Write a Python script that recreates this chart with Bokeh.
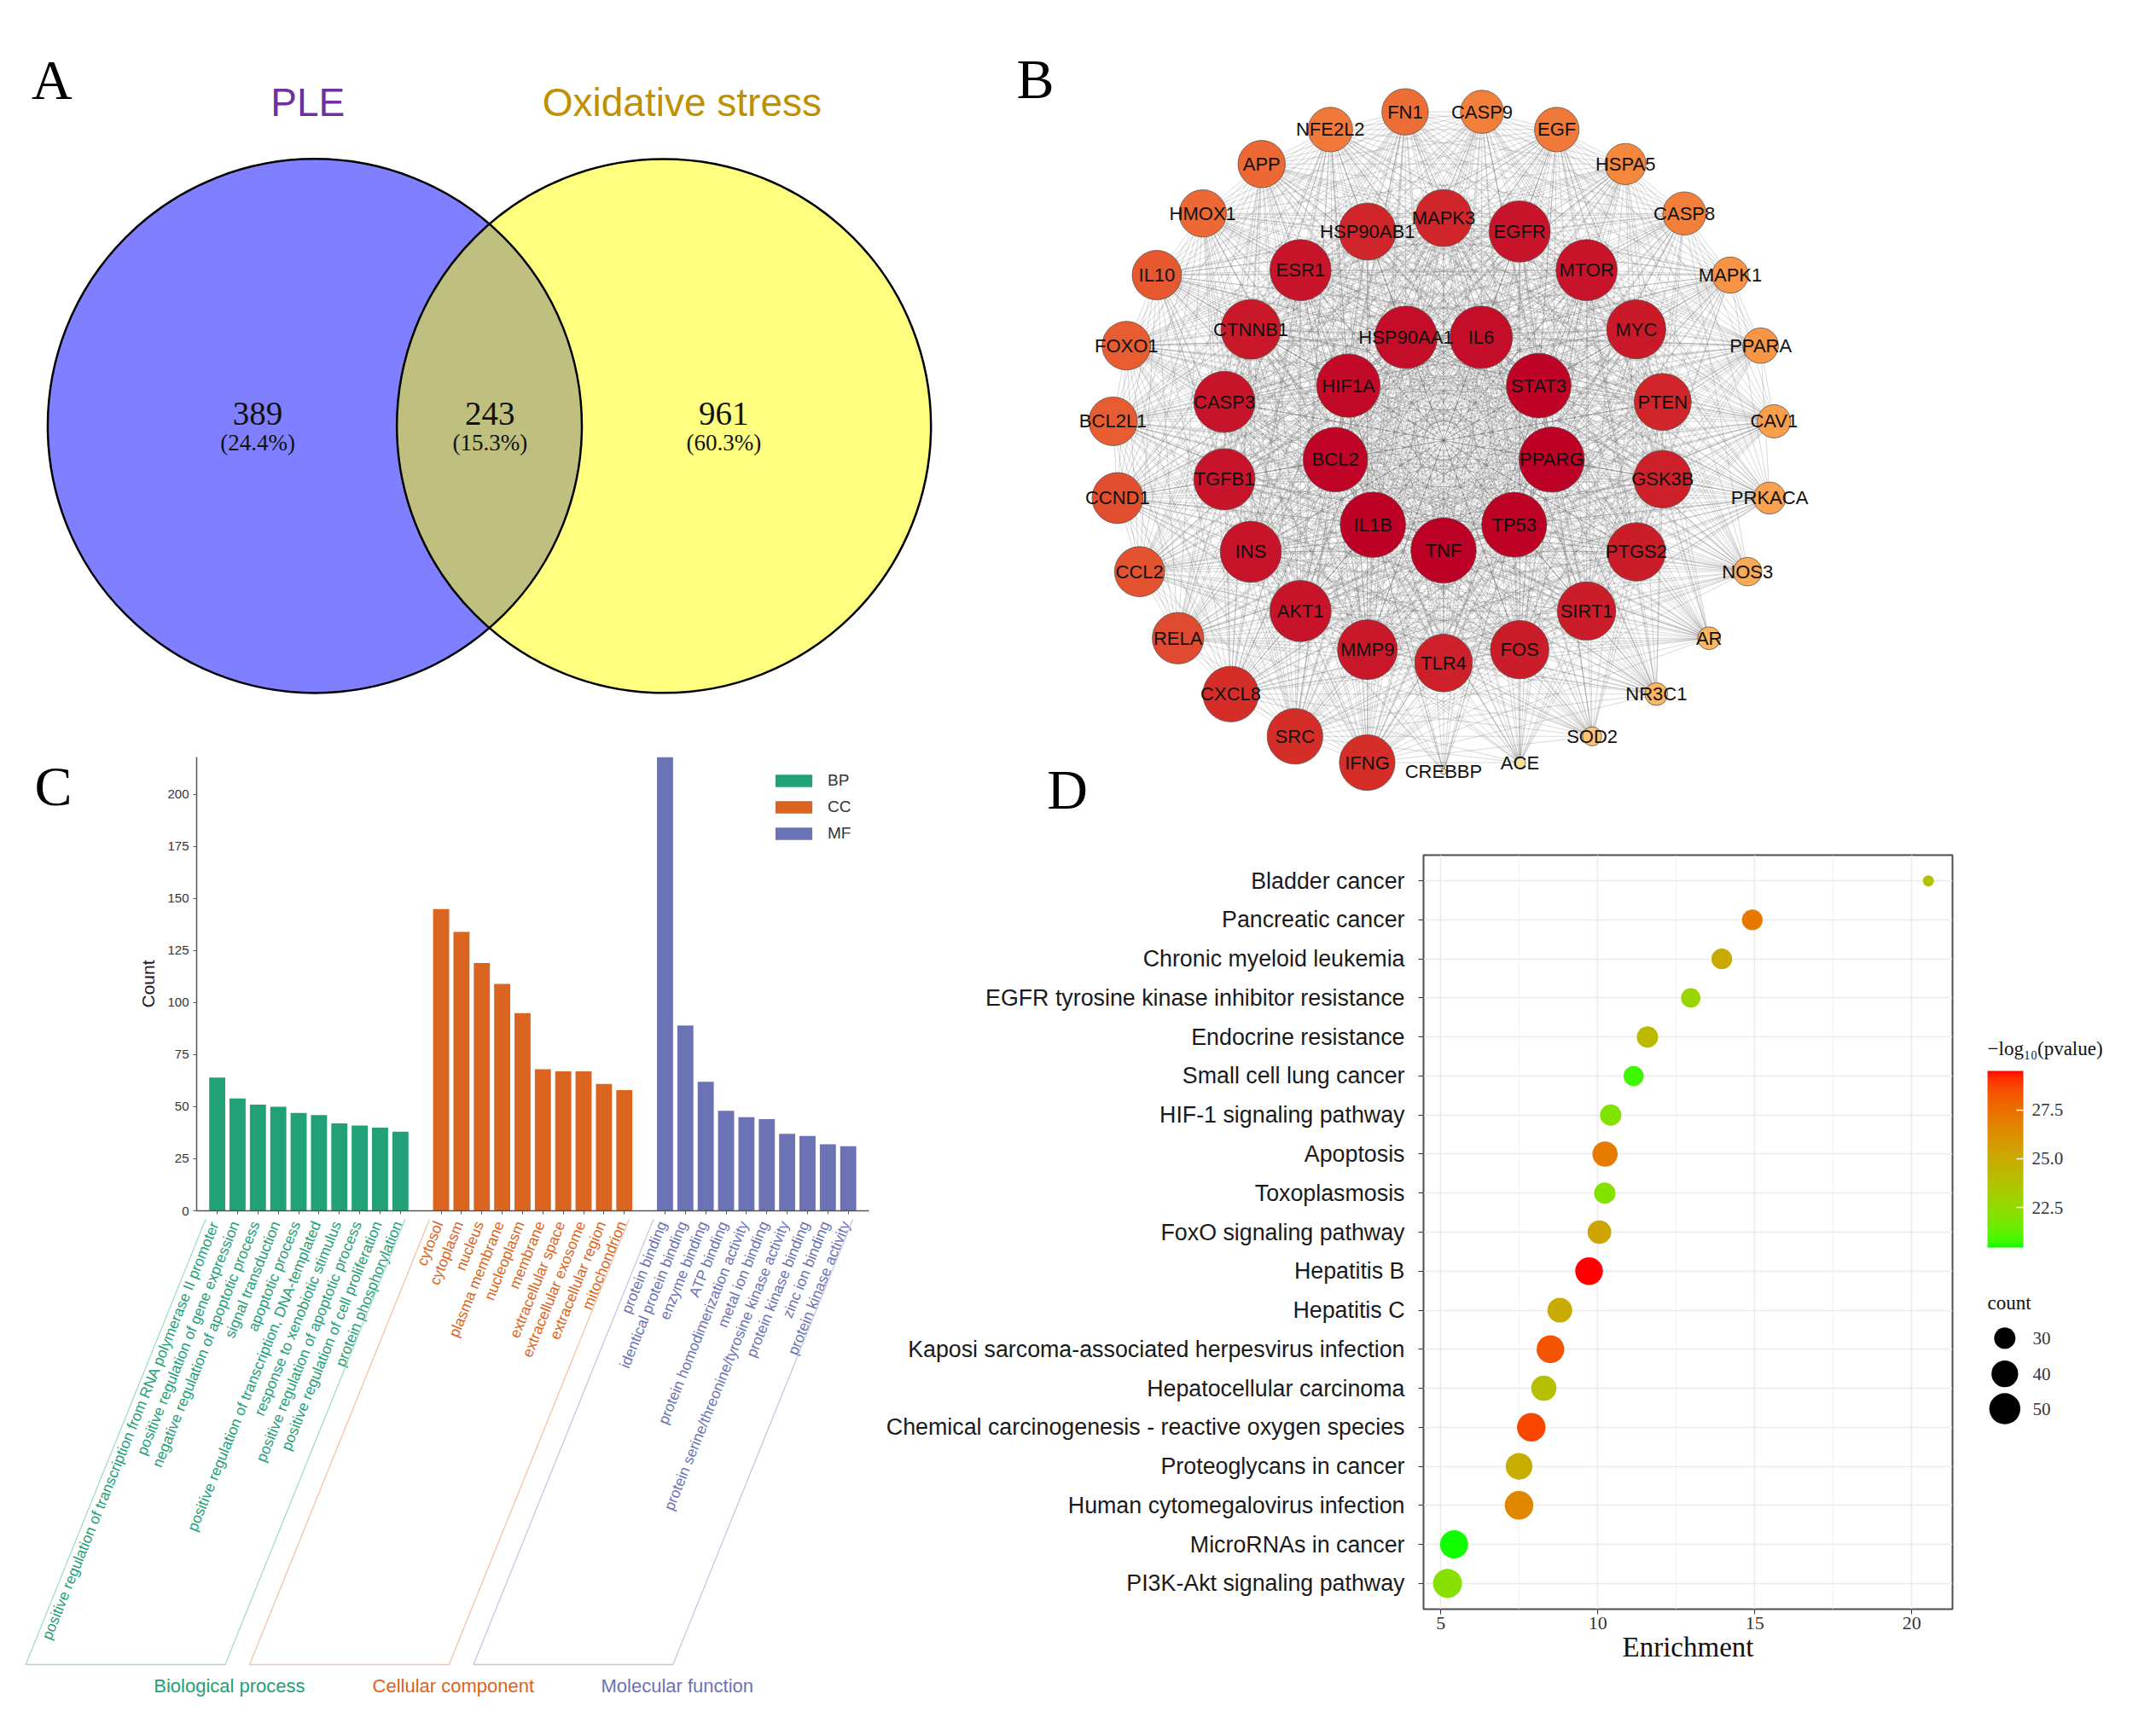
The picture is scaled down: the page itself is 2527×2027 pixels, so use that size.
import math
from bokeh.plotting import figure
from bokeh.models import (ColumnDataSource, Range1d, FactorRange, FixedTicker,
                          ColorBar, LinearColorMapper, PrintfTickFormatter, GridBox)
from bokeh.core.properties import value
from bokeh.embed import file_html
from bokeh.resources import INLINE

# ============================ DATA ============================
# Panel A - Venn diagram
venn_sets = ["PLE", "Oxidative stress"]
venn_set_colors = ["#7030A0", "#BF9000"]
venn_region_counts = [389, 243, 961]          # PLE only, shared, Oxidative stress only

# Panel B - PPI network, degree sorted concentric circles (node size ~ degree)
ring_inner = ["IL6", "STAT3", "PPARG", "TP53", "TNF", "IL1B", "BCL2", "HIF1A", "HSP90AA1"]
ring_inner_size = [45, 46.5, 47, 46.7, 47, 47, 46.4, 45.6, 45]
ring_middle = ["MAPK3", "EGFR", "MTOR", "MYC", "PTEN", "GSK3B", "PTGS2", "SIRT1", "FOS",
               "TLR4", "MMP9", "AKT1", "INS", "TGFB1", "CASP3", "CTNNB1", "ESR1", "HSP90AB1"]
ring_middle_size = [41, 44, 44, 42.5, 41, 41.5, 42, 42, 42, 41.5, 43, 44, 44, 44, 44, 43, 44, 41]
ring_outer = ["FN1", "CASP9", "EGF", "HSPA5", "CASP8", "MAPK1", "PPARA", "CAV1", "PRKACA",
              "NOS3", "AR", "NR3C1", "SOD2", "ACE", "CREBBP", "IFNG", "SRC", "CXCL8", "RELA",
              "CCL2", "CCND1", "BCL2L1", "FOXO1", "IL10", "HMOX1", "APP", "NFE2L2"]
ring_outer_size = [33.4, 31, 32, 29.6, 31, 26, 25.5, 24, 23, 20.5, 16.4, 16.4, 13.7, 8, 4,
                   40, 40, 40, 37, 36, 36.6, 35, 35, 35.5, 34, 34, 32]

# Panel C - GO enrichment
go_bp_terms = ["positive regulation of transcription from RNA polymerase II promoter",
               "positive regulation of gene expression",
               "negative regulation of apoptotic process",
               "signal transduction",
               "apoptotic process",
               "positive regulation of transcription, DNA-templated",
               "response to xenobiotic stimulus",
               "positive regulation of apoptotic process",
               "positive regulation of cell proliferation",
               "protein phosphorylation"]
go_bp_counts = [64, 54, 51, 50, 47, 46, 42, 41, 40, 38]
go_cc_terms = ["cytosol", "cytoplasm", "nucleus", "plasma membrane", "nucleoplasm",
               "membrane", "extracellular space", "extracellular exosome",
               "extracellular region", "mitochondrion"]
go_cc_counts = [145, 134, 119, 109, 95, 68, 67, 67, 61, 58]
go_mf_terms = ["protein binding", "identical protein binding", "enzyme binding", "ATP binding",
               "protein homodimerization activity", "metal ion binding",
               "protein serine/threonine/tyrosine kinase activity", "protein kinase binding",
               "zinc ion binding", "protein kinase activity"]
go_mf_counts = [218, 89, 62, 48, 45, 44, 37, 36, 32, 31]
go_y_ticks = [0, 25, 50, 75, 100, 125, 150, 175, 200]

# Panel D - KEGG enrichment
kegg_pathways = ["Bladder cancer", "Pancreatic cancer", "Chronic myeloid leukemia",
                 "EGFR tyrosine kinase inhibitor resistance", "Endocrine resistance",
                 "Small cell lung cancer", "HIF-1 signaling pathway", "Apoptosis",
                 "Toxoplasmosis", "FoxO signaling pathway", "Hepatitis B", "Hepatitis C",
                 "Kaposi sarcoma-associated herpesvirus infection", "Hepatocellular carcinoma",
                 "Chemical carcinogenesis - reactive oxygen species", "Proteoglycans in cancer",
                 "Human cytomegalovirus infection", "MicroRNAs in cancer",
                 "PI3K-Akt signaling pathway"]
kegg_enrichment = [20.53, 14.92, 13.95, 12.96, 11.58, 11.14, 10.41, 10.23, 10.22, 10.05,
                   9.72, 8.79, 8.49, 8.28, 7.88, 7.49, 7.49, 5.42, 5.21]
kegg_neglog10p = [23.8, 27.2, 25.0, 22.8, 24.2, 20.8, 22.0, 27.1, 22.1, 25.3,
                  29.5, 25.0, 28.3, 24.0, 28.7, 24.9, 26.6, 20.5, 22.2]
kegg_count = [18, 29, 29, 27, 30, 28, 30, 37, 30, 34, 42, 36, 42, 37, 44, 40, 44, 43, 45]
kegg_x_ticks = [5, 10, 15, 20]
colorbar_ticks = [22.5, 25.0, 27.5]
count_legend_values = [30, 40, 50]

# ============================ LAYOUT / STYLE ============================
S = 2527 / 1550.0              # px per reference unit
OFF = 0
ROW_PX = [880, 85, 464, 582]
COL_PX = [1034, 66, 1207, 204]
SANS = "Liberation Sans"
SERIF = "Liberation Serif"


def no_align(p):
    try:
        p.frame_align = False
    except Exception:
        pass
    return p


def canvas(left_px, top_px, w, h, transparent=False):
    x0, y0 = (left_px + OFF) / S, (top_px + OFF) / S
    p = figure(width=w, height=h, x_range=Range1d(x0, x0 + w / S),
               y_range=Range1d(y0 + h / S, y0), output_backend="svg",
               toolbar_location=None, title=None, x_axis_location=None,
               y_axis_location=None, min_border=0)
    p.grid.visible = False
    p.outline_line_color = None
    if transparent:
        p.background_fill_color = None
        p.border_fill_color = None
    else:
        p.background_fill_color = "white"
    return no_align(p)


def txt(p, xs, ys, texts, size, font=SANS, color="#111111", align="center", angle=0.0):
    p.text(x=xs, y=ys, text=texts, text_font=value(font), text_font_size=value(size),
           text_align=align, text_baseline="middle", text_color=color, angle=angle)


# ---------------- Panel A ----------------
pA = canvas(0, 0, COL_PX[0] + COL_PX[1], ROW_PX[0])
venn_cx, venn_cy, venn_r = [226, 477], [306, 306], 192
pA.circle(x=venn_cx[:1], y=venn_cy[:1], radius=venn_r, fill_color="#0000FF",
          fill_alpha=0.5, line_color=None)
pA.circle(x=venn_cx[1:], y=venn_cy[1:], radius=venn_r, fill_color="#FFFF00",
          fill_alpha=0.5, line_color=None)
pA.circle(x=venn_cx, y=venn_cy, radius=venn_r, fill_color=None, line_color="black",
          line_width=2.5)
total = sum(venn_region_counts)
region_x = [185, 352, 520]
txt(pA, region_x, [297] * 3, [str(v) for v in venn_region_counts], "39px", SERIF)
txt(pA, region_x, [318] * 3, ["(%.1f%%)" % (v / total * 100) for v in venn_region_counts],
    "27px", SERIF)
txt(pA, [221, 490], [73, 73], venn_sets, "46px", SANS, venn_set_colors)
txt(pA, [37], [57], ["A"], "66px", SERIF, "black")

# ---------------- Panel B ----------------
pB = canvas(COL_PX[0] + COL_PX[1], 0, COL_PX[2] + COL_PX[3], ROW_PX[0] + ROW_PX[1])
NET_CX, NET_CY = 1037.5, 316.5
rings = [(ring_inner, ring_inner_size, 79, 20.0),
         (ring_middle, ring_middle_size, 160, 0.0),
         (ring_outer, ring_outer_size, 238, -360.0 / 54)]
node_x, node_y, node_name, node_size = [], [], [], []
for names, sizes, R, start in rings:
    step = 360.0 / len(names)
    for k, (n, s) in enumerate(zip(names, sizes)):
        th = math.radians(start + k * step)
        node_x.append(NET_CX + R * math.sin(th))
        node_y.append(NET_CY - R * math.cos(th))
        node_name.append(n)
        node_size.append(s)

color_stops = [(4, (250, 240, 180)), (8, (250, 222, 150)), (14, (250, 195, 110)),
               (17, (249, 180, 95)), (21, (249, 168, 85)), (24, (249, 158, 75)),
               (26, (248, 148, 68)), (30, (245, 135, 60)), (32, (240, 120, 57)),
               (34, (236, 104, 52)), (35.5, (229, 88, 48)), (37, (223, 74, 48)),
               (40, (213, 46, 41)), (42, (203, 28, 42)), (44, (199, 20, 42)),
               (47, (189, 0, 38))]


def node_color(s):
    c = color_stops[-1][1] if s >= color_stops[-1][0] else color_stops[0][1]
    for (s0, c0), (s1, c1) in zip(color_stops[:-1], color_stops[1:]):
        if s0 <= s <= s1:
            t = (s - s0) / (s1 - s0)
            c = tuple(round(a + (b - a) * t) for a, b in zip(c0, c1))
            break
    return "#%02x%02x%02x" % c


ex0, ey0, ex1, ey1 = [], [], [], []
N = len(node_x)
for i in range(N):
    for j in range(i + 1, N):
        if node_size[i] + node_size[j] >= 48:
            ex0.append(node_x[i]); ey0.append(node_y[i])
            ex1.append(node_x[j]); ey1.append(node_y[j])
pB.segment(x0=ex0, y0=ey0, x1=ex1, y1=ey1, line_color="#666666", line_alpha=0.32,
           line_width=0.8)
pB.circle(x=node_x, y=node_y, radius=[s / 2 for s in node_size],
          fill_color=[node_color(s) for s in node_size], line_color="#5A4A40",
          line_alpha=0.75, line_width=1)
txt(pB, node_x, node_y, node_name, "22px", SANS, "#111111")
txt(pB, [744], [56.7], ["B"], "66px", SERIF, "black")
txt(pB, [767], [567.5], ["D"], "66px", SERIF, "black")

# ---------------- Panel C (bars) ----------------
C_X0, C_X1 = -1.01, 32.02
C_LB, C_RB, C_TB, C_BB = 230, 16, 7, 10
C_H = ROW_PX[1] + ROW_PX[2]
C_YMAX = 218
pC = no_align(figure(width=COL_PX[0], height=C_H, x_range=Range1d(C_X0, C_X1),
                     y_range=Range1d(0, C_YMAX), output_backend="svg", toolbar_location=None,
                     title=None, min_border_left=C_LB, min_border_right=C_RB,
                     min_border_top=C_TB, min_border_bottom=C_BB))
pC.grid.visible = False
pC.outline_line_color = None
go_groups = [("BP", "Biological process", go_bp_terms, go_bp_counts, "#22A078", "#A3DBC6"),
             ("CC", "Cellular component", go_cc_terms, go_cc_counts, "#DA6420", "#F4C3A3"),
             ("MF", "Molecular function", go_mf_terms, go_mf_counts, "#6C73B4", "#C4C6E4")]
offset = 0
group_pos = []
for key, gname, terms, counts, col, boxcol in go_groups:
    xs = [offset + i for i in range(len(terms))]
    group_pos.append(xs)
    pC.vbar(x=xs, top=counts, width=0.79, fill_color=col, line_color=None, legend_label=key)
    offset += len(terms) + 1
all_pos = [x for xs in group_pos for x in xs]
pC.xaxis.ticker = FixedTicker(ticks=all_pos)
pC.xaxis.major_label_text_font_size = "0px"
pC.xaxis.major_label_text_color = None
pC.xaxis.major_label_standoff = 0
pC.axis.minor_tick_line_color = None
pC.axis.axis_line_color = "#555555"
pC.axis.axis_line_width = 1.5
pC.axis.major_tick_line_color = "#555555"
pC.axis.major_tick_out = 4
pC.axis.major_tick_in = 0
pC.yaxis.ticker = FixedTicker(ticks=go_y_ticks)
pC.yaxis.major_label_text_font = SANS
pC.yaxis.major_label_text_font_size = "15px"
pC.yaxis.major_label_text_color = "#333333"
pC.yaxis.major_label_standoff = 5
pC.yaxis.axis_label = "Count"
pC.yaxis.axis_label_text_font = SANS
pC.yaxis.axis_label_text_font_size = "21px"
pC.yaxis.axis_label_text_font_style = "normal"
pC.yaxis.axis_label_text_color = "#1A1A1A"
pC.yaxis.axis_label_standoff = 8
lg = pC.legend[0]
lg.location = "top_right"
lg.label_text_font = SANS
lg.label_text_font_size = "19px"
lg.label_text_color = "#333333"
lg.glyph_width = 54
lg.glyph_height = 18
lg.label_standoff = 13
lg.label_width = 31
lg.spacing = 9
lg.padding = 12
lg.margin = 17
lg.border_line_color = None
lg.background_fill_alpha = 0

# ---------------- Panel C (category labels below the axis) ----------------
slot_px = (COL_PX[0] - C_LB - C_RB) / (C_X1 - C_X0)
count_px = (C_H - C_TB - C_BB) / float(C_YMAX)
pCL = no_align(figure(width=COL_PX[0], height=ROW_PX[3],
                      x_range=Range1d(C_X0 - C_LB / slot_px, C_X1 + C_RB / slot_px),
                      y_range=Range1d(-(C_BB + ROW_PX[3]) / count_px, -C_BB / count_px),
                      output_backend="svg", toolbar_location=None, title=None,
                      x_axis_location=None, y_axis_location=None, min_border=0))
pCL.grid.visible = False
pCL.outline_line_color = None
LABEL_ANGLE = math.radians(68)
BOX_DEPTH = 218.0                                  # in count units below the axis
BOX_SHIFT = BOX_DEPTH * count_px / math.tan(LABEL_ANGLE) / slot_px
box_xs, box_ys, box_cols = [], [], []
for (key, gname, terms, counts, col, boxcol), xs in zip(go_groups, group_pos):
    first, last = xs[0] - 0.4, xs[-1] + 0.4
    box_xs.append([first, last, last - BOX_SHIFT, first - BOX_SHIFT])
    box_ys.append([0, 0, -BOX_DEPTH, -BOX_DEPTH])
    box_cols.append(boxcol)
    txt(pCL, [x - 3 / slot_px for x in xs], [-13 / count_px] * len(xs), terms, "17.5px",
        SANS, col, "right", LABEL_ANGLE)
    txt(pCL, [xs[0] + 0.6], [-228.4], [gname], "22px", SANS, col)
pCL.patches(xs=box_xs, ys=box_ys, fill_color=None, line_color=box_cols, line_width=1.3)

# panel letter C (transparent overlay cell)
pCletter = canvas(0, ROW_PX[0], COL_PX[0], ROW_PX[1], transparent=True)
txt(pCletter, [38], [565], ["C"], "66px", SERIF, "black")

# ---------------- Panel D ----------------
def srgb2lin(c):
    c = c / 255.0
    return c / 12.92 if c <= 0.04045 else ((c + 0.055) / 1.055) ** 2.4


def lin2srgb(v):
    v = 12.92 * v if v <= 0.0031308 else 1.055 * (v ** (1 / 2.4)) - 0.055
    return max(0, min(255, int(round(v * 255))))


def rgb2lab(rgb):
    r, g, b = [srgb2lin(c) for c in rgb]
    X = (0.4124564 * r + 0.3575761 * g + 0.1804375 * b) / 0.95047
    Y = (0.2126729 * r + 0.7151522 * g + 0.0721750 * b)
    Z = (0.0193339 * r + 0.1191920 * g + 0.9503041 * b) / 1.08883
    f = lambda t: t ** (1 / 3) if t > (6 / 29) ** 3 else t / (3 * (6 / 29) ** 2) + 4 / 29
    fx, fy, fz = f(X), f(Y), f(Z)
    return (116 * fy - 16, 500 * (fx - fy), 200 * (fy - fz))


def lab2hex(lab):
    L, a, b = lab
    fy = (L + 16) / 116
    fx = fy + a / 500
    fz = fy - b / 200
    finv = lambda t: t ** 3 if t > 6 / 29 else 3 * (6 / 29) ** 2 * (t - 4 / 29)
    X, Y, Z = finv(fx) * 0.95047, finv(fy), finv(fz) * 1.08883
    r = 3.2404542 * X - 1.5371385 * Y - 0.4985314 * Z
    g = -0.9692660 * X + 1.8760108 * Y + 0.0415560 * Z
    bb = 0.0556434 * X - 0.2040259 * Y + 1.0572252 * Z
    return "#%02x%02x%02x" % tuple(lin2srgb(max(0.0, min(1.0, v))) for v in (r, g, bb))


lab_lo, lab_hi = rgb2lab((0, 255, 0)), rgb2lab((255, 0, 0))
palette = [lab2hex(tuple(a + (b - a) * (i / 255.0) for a, b in zip(lab_lo, lab_hi)))
           for i in range(256)]
mapper = LinearColorMapper(palette=palette, low=20.45, high=29.5)


def count_to_px(c):
    return 3.35 + 5.59 * math.sqrt(max(c - 15, 0))


D_H = ROW_PX[2] + ROW_PX[3]
pD = no_align(figure(width=COL_PX[1] + COL_PX[2], height=D_H, x_range=Range1d(4.447, 21.30),
                     y_range=FactorRange(factors=kegg_pathways[::-1], range_padding=0.16,
                                         range_padding_units="absolute"),
                     output_backend="svg", toolbar_location=None, title=None,
                     min_border_left=634, min_border_right=19, min_border_top=37,
                     min_border_bottom=125))
srcD = ColumnDataSource(dict(path=kegg_pathways, enrich=kegg_enrichment, nlp=kegg_neglog10p,
                             size=[count_to_px(c) for c in kegg_count]))
pD.scatter(x="enrich", y="path", size="size", source=srcD,
           fill_color={"field": "nlp", "transform": mapper}, line_color=None)
pD.xaxis.ticker = FixedTicker(ticks=kegg_x_ticks, minor_ticks=[7.5, 12.5, 17.5])
pD.xgrid.grid_line_color = "#EBEBEB"
pD.xgrid.grid_line_width = 1.6
pD.xgrid.minor_grid_line_color = "#F2F2F2"
pD.xgrid.minor_grid_line_width = 0.9
pD.ygrid.grid_line_color = "#EBEBEB"
pD.ygrid.grid_line_width = 1.6
pD.outline_line_color = "#4D4D4D"
pD.outline_line_width = 2
pD.outline_line_alpha = 1
pD.axis.axis_line_color = None
pD.axis.major_tick_line_color = "#333333"
pD.axis.major_tick_out = 6
pD.axis.major_tick_in = 0
pD.axis.minor_tick_line_color = None
pD.yaxis.major_label_text_font = SANS
pD.yaxis.major_label_text_font_size = "26.8px"
pD.yaxis.major_label_text_color = "#1A1A1A"
pD.yaxis.major_label_standoff = 16
pD.xaxis.major_label_text_font = SERIF
pD.xaxis.major_label_text_font_size = "22px"
pD.xaxis.major_label_text_color = "#333333"
pD.xaxis.major_label_standoff = 3
pD.xaxis.axis_label = "Enrichment"
pD.xaxis.axis_label_text_font = SERIF
pD.xaxis.axis_label_text_font_size = "33px"
pD.xaxis.axis_label_text_font_style = "normal"
pD.xaxis.axis_label_text_color = "#111111"
pD.xaxis.axis_label_standoff = 0

# ---------------- Panel D legends ----------------
pL = canvas(COL_PX[0] + COL_PX[1] + COL_PX[2], ROW_PX[0] + ROW_PX[1], COL_PX[3], D_H)
cb = ColorBar(color_mapper=mapper, location=(22, 549), width=42, height=207, padding=0,
              margin=0, ticker=FixedTicker(ticks=colorbar_ticks),
              formatter=PrintfTickFormatter(format="%.1f"),
              major_label_text_font=SERIF, major_label_text_font_size="21px",
              major_label_text_color="#333333", label_standoff=10,
              major_tick_line_color="white", major_tick_line_width=1.5,
              major_tick_in=8, major_tick_out=0, minor_tick_line_color=None,
              bar_line_color=None, border_line_color=None, background_fill_color=None,
              title=None)
pL.add_layout(cb)
txt(pL, [1428.6], [754], ["\u2212log\u2081\u2080(pvalue)"], "23px", SERIF, "#111111", "left")
cl_y = [962, 987.6, 1012.7]
pL.scatter(x=[1441] * 3, y=cl_y, size=[count_to_px(c) for c in count_legend_values],
           fill_color="black", line_color=None)
txt(pL, [1461] * 3, cl_y, [str(c) for c in count_legend_values], "21px", SERIF, "#333333",
    "left")
txt(pL, [1428.6], [936.5], ["count"], "23px", SERIF, "#111111", "left")

# ---------------- assemble ----------------
grid = GridBox(children=[(pA, 0, 0, 1, 2), (pB, 0, 2, 2, 2), (pC, 1, 0, 2, 1),
                         (pCL, 3, 0, 1, 1), (pD, 2, 1, 2, 2), (pL, 2, 3, 2, 1),
                         (pCletter, 1, 0, 1, 1)],
               rows=["%dpx" % r for r in ROW_PX], cols=["%dpx" % c for c in COL_PX],
               spacing=0)
open("out.html", "w").write(file_html(grid, INLINE))
